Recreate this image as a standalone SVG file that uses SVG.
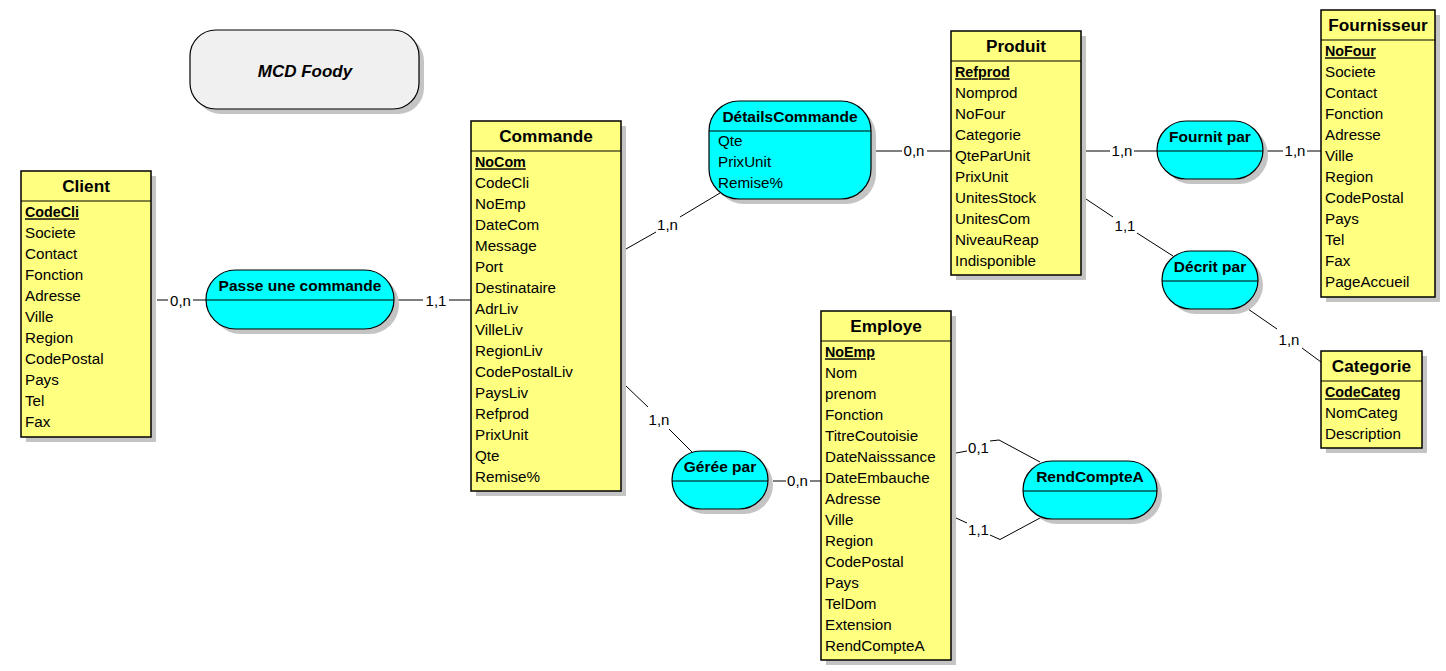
<svg xmlns="http://www.w3.org/2000/svg" width="1446" height="671" viewBox="0 0 1446 671">
<style>
.ent{fill:#FFFF80;stroke:#000;stroke-width:1.5}
.rel{fill:#00FFFF;stroke:#000;stroke-width:1.2}
.shd{fill:#C4C4C4;stroke:none}
.sep{stroke:#000;stroke-width:1.2}
.et{font-family:"Liberation Sans",Arial,sans-serif;font-weight:bold;font-size:17.2px;text-anchor:middle;fill:#000;transform:translateY(-1px)}
.rt{font-family:"Liberation Sans",Arial,sans-serif;font-weight:bold;font-size:15.5px;text-anchor:middle;fill:#000}
.at{font-family:"Liberation Sans",Arial,sans-serif;font-size:15.2px;fill:#000;transform:translateY(-1.2px)}
.key{font-family:"Liberation Sans",Arial,sans-serif;font-size:14.3px;font-weight:bold;text-decoration:underline;fill:#000;transform:translateY(-1.2px)}
.lb{font-family:"Liberation Sans",Arial,sans-serif;font-size:15px;text-anchor:middle;fill:#000}
.cn{stroke:#000;stroke-width:1;fill:none}
</style>
<rect width="1446" height="671" fill="#fff"/>

<g id="title">
<rect class="shd" x="195" y="35" width="229" height="79" rx="26"/>
<rect x="190" y="30" width="229" height="79" rx="26" fill="#F0F0F0" stroke="#000" stroke-width="1.2"/>
<text x="305" y="77" font-family="Liberation Sans,Arial,sans-serif" font-weight="bold" font-style="italic" font-size="17px" text-anchor="middle">MCD Foody</text>
</g>

<g id="connectors">
<path class="cn" d="M157,300H168M193,300H206"/>
<text class="lb" x="180.5" y="305.5">0,n</text>
<path class="cn" d="M398,300H423M449,300H471"/>
<text class="lb" x="436" y="305.5">1,1</text>
<path class="cn" d="M626,249L656,232M680,217L720,193"/>
<text class="lb" x="667.5" y="229.5">1,n</text>
<path class="cn" d="M876,151H902M927,151H951"/>
<text class="lb" x="914" y="156">0,n</text>
<path class="cn" d="M1086,151H1110M1134,151H1157"/>
<text class="lb" x="1122" y="156">1,n</text>
<path class="cn" d="M1267,151H1283M1307,151H1321"/>
<text class="lb" x="1295" y="156">1,n</text>
<path class="cn" d="M1086,199L1113,217M1137,233L1173,256"/>
<text class="lb" x="1125" y="231">1,1</text>
<path class="cn" d="M1248,309L1277,329M1302,348L1321,362"/>
<text class="lb" x="1289" y="345">1,n</text>
<path class="cn" d="M626,386L648,407M669,429L692,452"/>
<text class="lb" x="659" y="425">1,n</text>
<path class="cn" d="M773,481H786M810,481H821"/>
<text class="lb" x="797.5" y="486">0,n</text>
<path class="cn" d="M956,453L967,451M990,441L999,440L1040,462"/>
<text class="lb" x="978.5" y="453">0,1</text>
<path class="cn" d="M956,518L967,523M990,535L1000,539.5L1040,518"/>
<text class="lb" x="978.5" y="535">1,1</text>
</g>

<g id="client">
<rect class="shd" x="26" y="176" width="130" height="266"/>
<rect class="ent" x="21" y="171" width="130" height="266"/>
<line class="sep" x1="21" y1="201" x2="151" y2="201"/>
<text class="et" x="86" y="193">Client</text>
<text class="key" x="25" y="218.5">CodeCli</text>
<text class="at" x="25" y="239.5">Societe</text>
<text class="at" x="25" y="260.5">Contact</text>
<text class="at" x="25" y="281.5">Fonction</text>
<text class="at" x="25" y="302.5">Adresse</text>
<text class="at" x="25" y="323.5">Ville</text>
<text class="at" x="25" y="344.5">Region</text>
<text class="at" x="25" y="365.5">CodePostal</text>
<text class="at" x="25" y="386.5">Pays</text>
<text class="at" x="25" y="407.5">Tel</text>
<text class="at" x="25" y="428.5">Fax</text>
</g>

<g id="passe">
<rect class="shd" x="211" y="275" width="188" height="59" rx="29.5"/>
<rect class="rel" x="206" y="270" width="188" height="59" rx="29.5"/>
<line class="sep" x1="206" y1="300" x2="394" y2="300"/>
<text class="rt" x="300" y="291">Passe une commande</text>
</g>

<g id="commande">
<rect class="shd" x="476" y="126" width="150" height="370"/>
<rect class="ent" x="471" y="121" width="150" height="370"/>
<line class="sep" x1="471" y1="151" x2="621" y2="151"/>
<text class="et" x="546" y="143">Commande</text>
<text class="key" x="475" y="168.5">NoCom</text>
<text class="at" x="475" y="189.5">CodeCli</text>
<text class="at" x="475" y="210.5">NoEmp</text>
<text class="at" x="475" y="231.5">DateCom</text>
<text class="at" x="475" y="252.5">Message</text>
<text class="at" x="475" y="273.5">Port</text>
<text class="at" x="475" y="294.5">Destinataire</text>
<text class="at" x="475" y="315.5">AdrLiv</text>
<text class="at" x="475" y="336.5">VilleLiv</text>
<text class="at" x="475" y="357.5">RegionLiv</text>
<text class="at" x="475" y="378.5">CodePostalLiv</text>
<text class="at" x="475" y="399.5">PaysLiv</text>
<text class="at" x="475" y="420.5">Refprod</text>
<text class="at" x="475" y="441.5">PrixUnit</text>
<text class="at" x="475" y="462.5">Qte</text>
<text class="at" x="475" y="483.5">Remise%</text>
</g>

<g id="details">
<rect class="shd" x="714" y="106" width="162" height="98" rx="30"/>
<rect class="rel" x="709" y="101" width="162" height="98" rx="30"/>
<line class="sep" x1="709" y1="131" x2="871" y2="131"/>
<text class="rt" x="790" y="121.5">DétailsCommande</text>
<text class="at" x="718" y="147.5">Qte</text>
<text class="at" x="718" y="168.5">PrixUnit</text>
<text class="at" x="718" y="189.5">Remise%</text>
</g>

<g id="produit">
<rect class="shd" x="956" y="36" width="130" height="244"/>
<rect class="ent" x="951" y="31" width="130" height="244"/>
<line class="sep" x1="951" y1="61" x2="1081" y2="61"/>
<text class="et" x="1016" y="53">Produit</text>
<text class="key" x="955" y="78.5">Refprod</text>
<text class="at" x="955" y="99.5">Nomprod</text>
<text class="at" x="955" y="120.5">NoFour</text>
<text class="at" x="955" y="141.5">Categorie</text>
<text class="at" x="955" y="162.5">QteParUnit</text>
<text class="at" x="955" y="183.5">PrixUnit</text>
<text class="at" x="955" y="204.5">UnitesStock</text>
<text class="at" x="955" y="225.5">UnitesCom</text>
<text class="at" x="955" y="246.5">NiveauReap</text>
<text class="at" x="955" y="267.5">Indisponible</text>
</g>

<g id="fournit">
<rect class="shd" x="1162" y="126" width="106" height="58" rx="29"/>
<rect class="rel" x="1157" y="121" width="106" height="58" rx="29"/>
<line class="sep" x1="1157" y1="151" x2="1263" y2="151"/>
<text class="rt" x="1210" y="141.5">Fournit par</text>
</g>

<g id="fournisseur">
<rect class="shd" x="1326" y="15" width="114" height="287"/>
<rect class="ent" x="1321" y="10" width="114" height="287"/>
<line class="sep" x1="1321" y1="40" x2="1435" y2="40"/>
<text class="et" x="1378" y="32">Fournisseur</text>
<text class="key" x="1325" y="57.5">NoFour</text>
<text class="at" x="1325" y="78.5">Societe</text>
<text class="at" x="1325" y="99.5">Contact</text>
<text class="at" x="1325" y="120.5">Fonction</text>
<text class="at" x="1325" y="141.5">Adresse</text>
<text class="at" x="1325" y="162.5">Ville</text>
<text class="at" x="1325" y="183.5">Region</text>
<text class="at" x="1325" y="204.5">CodePostal</text>
<text class="at" x="1325" y="225.5">Pays</text>
<text class="at" x="1325" y="246.5">Tel</text>
<text class="at" x="1325" y="267.5">Fax</text>
<text class="at" x="1325" y="288.5">PageAccueil</text>
</g>

<g id="decrit">
<rect class="shd" x="1167" y="256" width="96" height="58" rx="29"/>
<rect class="rel" x="1162" y="251" width="96" height="58" rx="29"/>
<line class="sep" x1="1162" y1="281" x2="1258" y2="281"/>
<text class="rt" x="1210" y="271.5">Décrit par</text>
</g>

<g id="categorie">
<rect class="shd" x="1326" y="356" width="101" height="97"/>
<rect class="ent" x="1321" y="351" width="101" height="97"/>
<line class="sep" x1="1321" y1="381" x2="1422" y2="381"/>
<text class="et" x="1371.5" y="373">Categorie</text>
<text class="key" x="1325" y="398.5">CodeCateg</text>
<text class="at" x="1325" y="419.5">NomCateg</text>
<text class="at" x="1325" y="440.5">Description</text>
</g>

<g id="geree">
<rect class="shd" x="677" y="456" width="96" height="58" rx="29"/>
<rect class="rel" x="672" y="451" width="96" height="58" rx="29"/>
<line class="sep" x1="672" y1="481" x2="768" y2="481"/>
<text class="rt" x="720" y="471.5">Gérée par</text>
</g>

<g id="employe">
<rect class="shd" x="826" y="316" width="130" height="349"/>
<rect class="ent" x="821" y="311" width="130" height="349"/>
<line class="sep" x1="821" y1="341" x2="951" y2="341"/>
<text class="et" x="886" y="333">Employe</text>
<text class="key" x="825" y="358.5">NoEmp</text>
<text class="at" x="825" y="379.5">Nom</text>
<text class="at" x="825" y="400.5">prenom</text>
<text class="at" x="825" y="421.5">Fonction</text>
<text class="at" x="825" y="442.5">TitreCoutoisie</text>
<text class="at" x="825" y="463.5">DateNaisssance</text>
<text class="at" x="825" y="484.5">DateEmbauche</text>
<text class="at" x="825" y="505.5">Adresse</text>
<text class="at" x="825" y="526.5">Ville</text>
<text class="at" x="825" y="547.5">Region</text>
<text class="at" x="825" y="568.5">CodePostal</text>
<text class="at" x="825" y="589.5">Pays</text>
<text class="at" x="825" y="610.5">TelDom</text>
<text class="at" x="825" y="631.5">Extension</text>
<text class="at" x="825" y="652.5">RendCompteA</text>
</g>

<g id="rendcomptea">
<rect class="shd" x="1028" y="466" width="134" height="58" rx="29"/>
<rect class="rel" x="1023" y="461" width="134" height="58" rx="29"/>
<line class="sep" x1="1023" y1="491" x2="1157" y2="491"/>
<text class="rt" x="1090" y="481.5">RendCompteA</text>
</g>
</svg>
